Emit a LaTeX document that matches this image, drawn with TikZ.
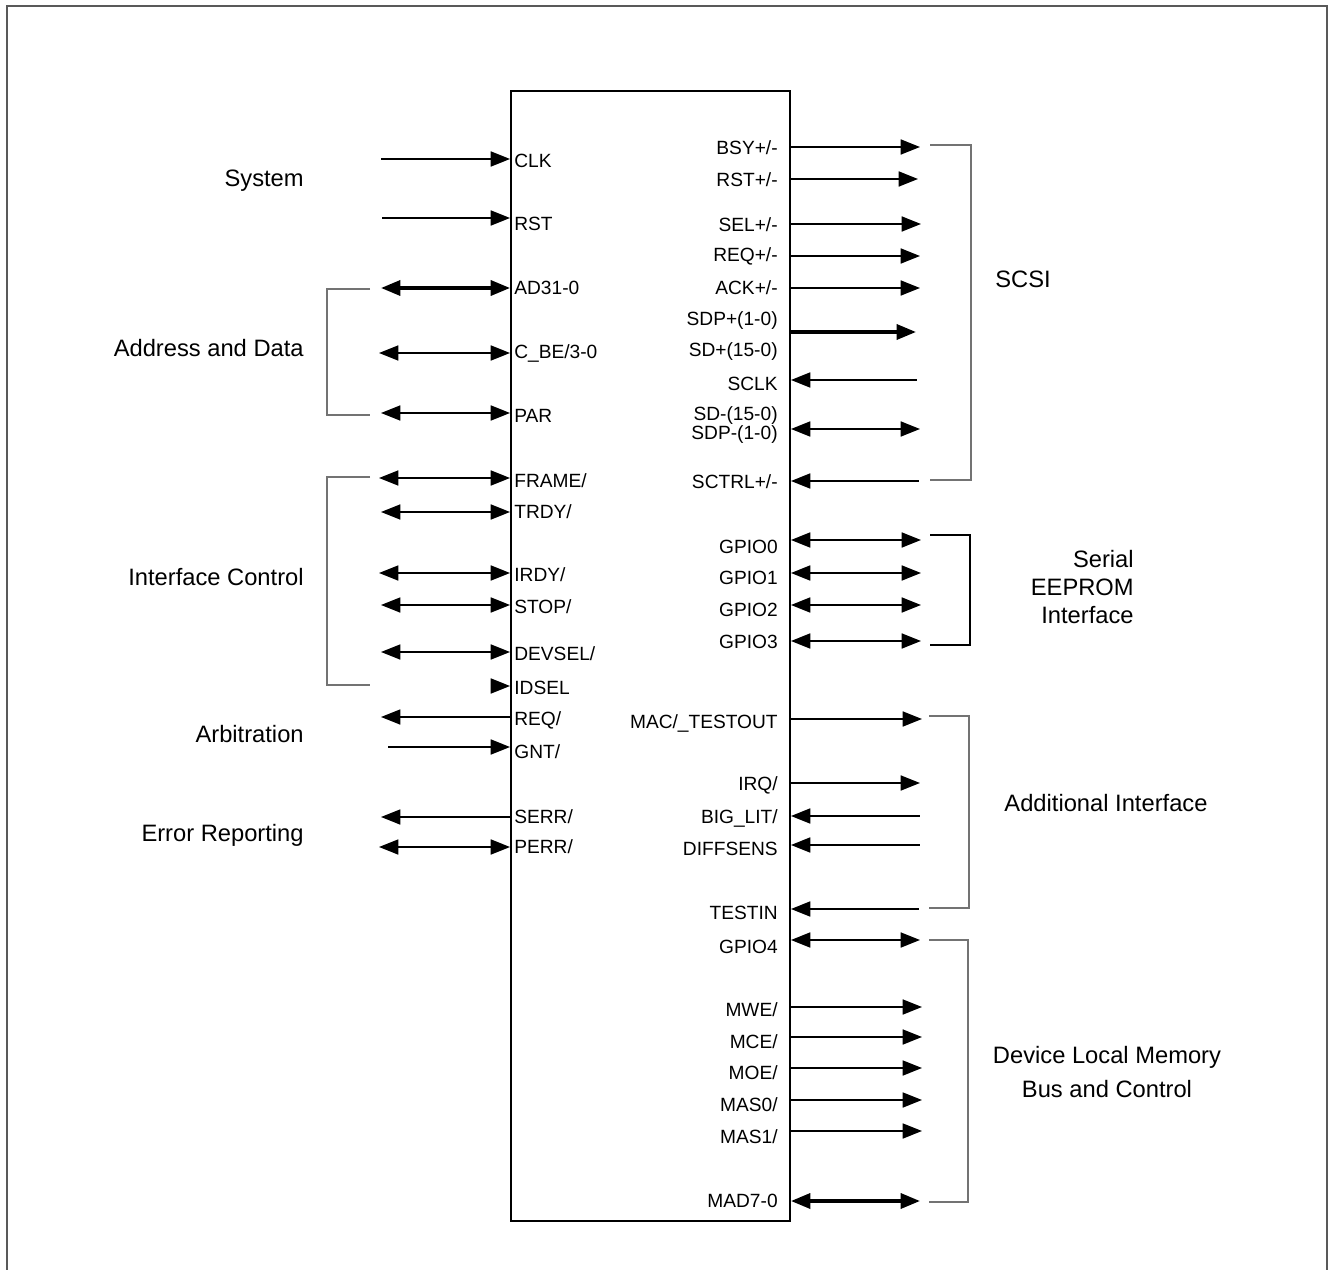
\documentclass[tikz,border=0pt]{standalone}
\usepackage{fontspec}
\setmainfont{Liberation Sans}
\usetikzlibrary{arrows.meta, positioning}

\begin{document}
\begin{tikzpicture}[x=0.02cm, y=-0.02cm,
  >={Triangle[length=11pt, width=8.5pt]},
  chip/.style={draw, line width=1.1pt, inner sep=0pt, minimum width=5.58cm, minimum height=22.6cm},
  pinl/.style={anchor=west, inner sep=0pt, font=\fontsize{10.9}{13}\selectfont},
  pinr/.style={anchor=east, inner sep=0pt, font=\fontsize{10.9}{13}\selectfont},
  grp/.style={inner sep=0pt, font=\fontsize{13.5}{16}\selectfont},
  sig/.style={line width=1.1pt},
  bus/.style={line width=2pt},
  brk/.style={draw=black!55, line width=0.6pt}]
  \useasboundingbox (0,0) rectangle (1332,1270);
  \draw[black!65, line width=1.1pt] (7,1280) -- (7,6) -- (1327,6) -- (1327,1280);

  \node[chip] (chip) at (650.5,656) {};

  % PCI side
  \coordinate (clk) at (381,159);
  \coordinate (rst) at (382,218);
  \coordinate (ad) at (381,288);
  \coordinate (cbe) at (379,353);
  \coordinate (par) at (381,413);
  \coordinate (frame) at (379,478);
  \coordinate (trdy) at (381,512);
  \coordinate (irdy) at (379,573);
  \coordinate (stop) at (381,605);
  \coordinate (devsel) at (381,652);
  \coordinate (idsel) at (491,686);
  \coordinate (req) at (381,717);
  \coordinate (gnt) at (388,747);
  \coordinate (serr) at (381,817);
  \coordinate (perr) at (379,847);

  \node[pinl] (clk-l) at (514,161) {CLK};
  \node[pinl] (rst-l) at (514,224) {RST};
  \node[pinl] (ad-l) at (514,288) {AD31-0};
  \node[pinl] (cbe-l) at (514,353) {C\_BE/3-0};
  \node[pinl] (par-l) at (514,416) {PAR};
  \node[pinl] (frame-l) at (514,481) {FRAME/};
  \node[pinl] (trdy-l) at (514,512) {TRDY/};
  \node[pinl] (irdy-l) at (514,575) {IRDY/};
  \node[pinl] (stop-l) at (514,607) {STOP/};
  \node[pinl] (devsel-l) at (514,654) {DEVSEL/};
  \node[pinl] (idsel-l) at (514,688) {IDSEL};
  \node[pinl] (req-l) at (514,720) {REQ/};
  \node[pinl] (gnt-l) at (514,752) {GNT/};
  \node[pinl] (serr-l) at (514,817) {SERR/};
  \node[pinl] (perr-l) at (514,847) {PERR/};

  \draw[sig, ->] (clk) -- (clk -| chip.west);
  \draw[sig, ->] (rst) -- (rst -| chip.west);
  \draw[bus, <->] (ad) -- (ad -| chip.west);
  \draw[sig, <->] (cbe) -- (cbe -| chip.west);
  \draw[sig, <->] (par) -- (par -| chip.west);
  \draw[sig, <->] (frame) -- (frame -| chip.west);
  \draw[sig, <->] (trdy) -- (trdy -| chip.west);
  \draw[sig, <->] (irdy) -- (irdy -| chip.west);
  \draw[sig, <->] (stop) -- (stop -| chip.west);
  \draw[sig, <->] (devsel) -- (devsel -| chip.west);
  \draw[sig, ->] (idsel) -- (idsel -| chip.west);
  \draw[sig, <-] (req) -- (req -| chip.west);
  \draw[sig, ->] (gnt) -- (gnt -| chip.west);
  \draw[sig, <-] (serr) -- (serr -| chip.west);
  \draw[sig, <->] (perr) -- (perr -| chip.west);

  \draw[brk] (370,289) -- (327,289) -- (327,415) -- (370,415);
  \draw[brk] (370,477) -- (327,477) -- (327,685) -- (370,685);

  \node[grp, anchor=east] (system) at (304,181) {System};
  \node[grp, anchor=east] (addr) at (304,348) {Address and Data};
  \node[grp, anchor=east] (ifctl) at (304,577) {Interface Control};
  \node[grp, anchor=east] (arb) at (304,734) {Arbitration};
  \node[grp, anchor=east] (err) at (304,835) {Error Reporting};

  % SCSI side
  \coordinate (bsy) at (920,147);
  \coordinate (rstp) at (918,179);
  \coordinate (sel) at (921,224);
  \coordinate (reqp) at (920,256);
  \coordinate (ack) at (920,288);
  \coordinate (sdp) at (916,332);
  \coordinate (sclk) at (917,380);
  \coordinate (sdm) at (920,429);
  \coordinate (sctrl) at (919,481);
  \coordinate (gpio0) at (921,540);
  \coordinate (gpio1) at (921,573);
  \coordinate (gpio2) at (921,605);
  \coordinate (gpio3) at (921,641);
  \coordinate (mac) at (922,719);
  \coordinate (irq) at (920,783);
  \coordinate (biglit) at (920,816);
  \coordinate (diff) at (920,845);
  \coordinate (testin) at (919,909);
  \coordinate (gpio4) at (920,940);
  \coordinate (mwe) at (922,1007);
  \coordinate (mce) at (922,1037);
  \coordinate (moe) at (922,1068);
  \coordinate (mas0) at (922,1100);
  \coordinate (mas1) at (922,1131);
  \coordinate (mad) at (920,1201);

  \node[pinr] (bsy-l) at (778,148) {BSY+/-};
  \node[pinr] (rstp-l) at (778,180) {RST+/-};
  \node[pinr] (sel-l) at (778,225) {SEL+/-};
  \node[pinr] (reqp-l) at (778,256) {REQ+/-};
  \node[pinr] (ack-l) at (778,288) {ACK+/-};
  \node[pinr] (sdp-l) at (778,321) {SDP+(1-0)};
  \node[pinr] (sdpl-l) at (778,352) {SD+(15-0)};
  \node[pinr] (sclk-l) at (778,384) {SCLK};
  \node[pinr] (sdm-l) at (778,416) {SD-(15-0)};
  \node[pinr] (sdpm-l) at (778,435) {SDP-(1-0)};
  \node[pinr] (sctrl-l) at (778,482) {SCTRL+/-};
  \node[pinr] (gpio0-l) at (778,547) {GPIO0};
  \node[pinr] (gpio1-l) at (778,578) {GPIO1};
  \node[pinr] (gpio2-l) at (778,610) {GPIO2};
  \node[pinr] (gpio3-l) at (778,642) {GPIO3};
  \node[pinr] (mac-l) at (778,723) {MAC/\_TESTOUT};
  \node[pinr] (irq-l) at (778,785) {IRQ/};
  \node[pinr] (biglit-l) at (778,818) {BIG\_LIT/};
  \node[pinr] (diff-l) at (778,849) {DIFFSENS};
  \node[pinr] (testin-l) at (778,913) {TESTIN};
  \node[pinr] (gpio4-l) at (778,947) {GPIO4};
  \node[pinr] (mwe-l) at (778,1010) {MWE/};
  \node[pinr] (mce-l) at (778,1042) {MCE/};
  \node[pinr] (moe-l) at (778,1073) {MOE/};
  \node[pinr] (mas0-l) at (778,1105) {MAS0/};
  \node[pinr] (mas1-l) at (778,1137) {MAS1/};
  \node[pinr] (mad-l) at (778,1201) {MAD7-0};

  \draw[sig, ->] (chip.east |- bsy) -- (bsy);
  \draw[sig, ->] (chip.east |- rstp) -- (rstp);
  \draw[sig, ->] (chip.east |- sel) -- (sel);
  \draw[sig, ->] (chip.east |- reqp) -- (reqp);
  \draw[sig, ->] (chip.east |- ack) -- (ack);
  \draw[bus, ->] (chip.east |- sdp) -- (sdp);
  \draw[sig, <-] (chip.east |- sclk) -- (sclk);
  \draw[sig, <->] (chip.east |- sdm) -- (sdm);
  \draw[sig, <-] (chip.east |- sctrl) -- (sctrl);
  \draw[sig, <->] (chip.east |- gpio0) -- (gpio0);
  \draw[sig, <->] (chip.east |- gpio1) -- (gpio1);
  \draw[sig, <->] (chip.east |- gpio2) -- (gpio2);
  \draw[sig, <->] (chip.east |- gpio3) -- (gpio3);
  \draw[sig, ->] (chip.east |- mac) -- (mac);
  \draw[sig, ->] (chip.east |- irq) -- (irq);
  \draw[sig, <-] (chip.east |- biglit) -- (biglit);
  \draw[sig, <-] (chip.east |- diff) -- (diff);
  \draw[sig, <-] (chip.east |- testin) -- (testin);
  \draw[sig, <->] (chip.east |- gpio4) -- (gpio4);
  \draw[sig, ->] (chip.east |- mwe) -- (mwe);
  \draw[sig, ->] (chip.east |- mce) -- (mce);
  \draw[sig, ->] (chip.east |- moe) -- (moe);
  \draw[sig, ->] (chip.east |- mas0) -- (mas0);
  \draw[sig, ->] (chip.east |- mas1) -- (mas1);
  \draw[bus, <->] (chip.east |- mad) -- (mad);

  \draw[brk] (930,145) -- (971,145) -- (971,480) -- (930,480);
  \draw[sig] (930,535) -- (970,535) -- (970,645) -- (930,645);
  \draw[brk] (929,716) -- (969,716) -- (969,908) -- (929,908);
  \draw[brk] (929,940) -- (968,940) -- (968,1202) -- (929,1202);

  \node[grp] (scsi) at (1023,279) {SCSI};
  \node[grp, anchor=east, align=right, font=\fontsize{13.5}{16.2}\selectfont] (eeprom) at (1134,587) {Serial\\EEPROM\\Interface};
  \node[grp] (addl) at (1106,803) {Additional Interface};
  \node[grp, align=center, font=\fontsize{13.5}{19.4}\selectfont] (mem) at (1107,1072) {Device Local Memory\\Bus and Control};
\end{tikzpicture}
\end{document}
